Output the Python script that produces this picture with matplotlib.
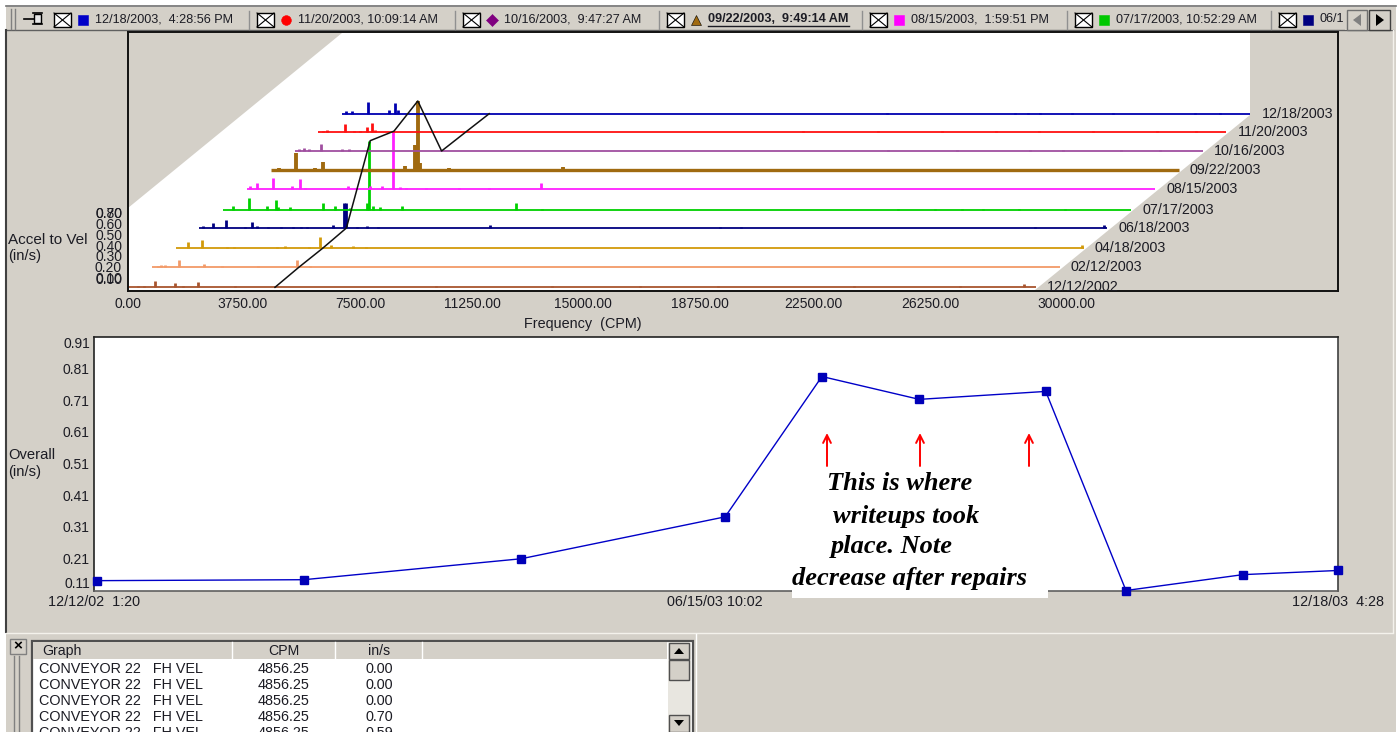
import numpy as np
import pandas as pd
import matplotlib
matplotlib.use("Agg")
import matplotlib.pyplot as plt
from matplotlib.patches import Polygon, Rectangle

plt.rcParams['font.family'] = ['Liberation Sans', 'DejaVu Sans']

GRAY = '#D4D0C8'
INK = '#1c1c24'

# legend strip
stamp_labels = ['12/18/2003,  4:28:56 PM', '11/20/2003, 10:09:14 AM', '10/16/2003,  9:47:27 AM',
                '09/22/2003,  9:49:14 AM', '08/15/2003,  1:59:51 PM', '07/17/2003, 10:52:29 AM', '06/1']
stamp_markers = ['s', 'o', 'D', '^', 's', 's', 's']
stamp_colors = ['#0000C8', '#FF0000', '#800080', '#A06A10', '#FF00FF', '#00C800', '#000080']

# waterfall
trace_dates = ['12/12/2002', '02/12/2003', '04/18/2003', '06/18/2003', '07/17/2003',
               '08/15/2003', '09/22/2003', '10/16/2003', '11/20/2003', '12/18/2003']
trace_colors = ['#A8552E', '#F29A68', '#D29A0A', '#000080', '#00D000',
                '#FF20FF', '#A06A10', '#A04FA0', '#FF1010', '#0000B0']
cursor_amp = [0.00, 0.00, 0.00, 0.00, 0.70, 0.59, 0.70, 0.00, 0.00, 0.00]
cursor_cpm = 4856.25

cpm_1212 = [330, 520, 891, 1551, 1826, 2321, 3531, 4851, 10186, 14000, 16900, 19500, 24000, 27500, 29600]
amp_1212 = [.017, .017, .06, .04, .017, .05, .01, .017, .014, .01, .012, .01, .012, .01, .03]
cpm_0212 = [200, 300, 440, 891, 1738, 2310, 3520, 4785, 5225]
amp_0212 = [.012, .02, .02, .074, .034, .01, .01, .074, .01]
cpm_0418 = [407, 869, 1694, 1914, 3344, 3619, 4411, 4774, 5126, 5874, 6300, 29950]
amp_0418 = [.068, .085, .017, .014, .017, .02, .01, .118, .034, .02, .01, .03]
cpm_0618 = [132, 440, 869, 1507, 1749, 1892, 2277, 2700, 3100, 3350, 3542, 4422, 4774, 4840, 5192, 5522, 5907,
            9592, 17200, 17900, 27600, 29900]
amp_0618 = [.017, .05, .085, .014, .06, .017, .01, .01, .01, .012, .01, .027, .25, .25, .014, .017, .014,
            .034, .01, .01, .01, .027]
cpm_0717 = [308, 858, 1441, 1738, 1826, 2211, 3311, 3696, 4191, 4741, 4818, 4961, 5181, 5918, 9658, 10516,
            22300, 23500, 24400, 25100, 26300, 27800]
amp_0717 = [.04, .118, .034, .10, .027, .027, .068, .034, .017, .068, .70, .04, .027, .04, .068, .012,
            .01, .01, .01, .01, .01, .01]
cpm_0815 = [99, 319, 869, 1474, 1760, 1914, 3344, 3586, 4059, 4444, 4829, 5049, 5269, 5929, 7000, 8000, 9702]
amp_0815 = [.034, .068, .118, .034, .108, .017, .034, .017, .034, .034, .59, .027, .017, .017, .01, .01, .068]
cpm_0922 = [264, 847, 1474, 1727, 4422, 4760, 4856, 4930, 5900, 7800, 9669, 20000, 22800, 24600, 26100, 28300]
amp_0922 = [.024, .17, .02, .085, .04, .25, .70, .07, .017, .012, .034, .012, .012, .012, .012, .012]
cpm_1016 = [132, 297, 462, 869, 1562, 1782, 19600, 21900, 24300, 25400, 27300, 28600]
amp_1016 = [.02, .027, .017, .075, .017, .017, .01, .01, .01, .01, .01, .01]
cpm_1120 = [143, 275, 891, 1166, 1375, 1595, 1760, 1881, 16000, 18500, 20600, 22400, 23800, 25600, 27700, 29000]
amp_1120 = [.017, .02, .085, .017, .017, .05, .095, .027, .012, .012, .012, .012, .012, .012, .012, .012]
cpm_1218 = [132, 319, 847, 1562, 1738, 1837, 18000, 22233, 22660, 23060, 24116, 25470, 28180, 29000]
amp_1218 = [.027, .027, .118, .034, .11, .04, .012, .012, .012, .012, .012, .012, .012, .012]
trace_cpm = [cpm_1212, cpm_0212, cpm_0418, cpm_0618, cpm_0717, cpm_0815, cpm_0922, cpm_1016, cpm_1120, cpm_1218]
trace_amp = [amp_1212, amp_0212, amp_0418, amp_0618, amp_0717, amp_0815, amp_0922, amp_1016, amp_1120, amp_1218]

freq_ticks = [0, 3750, 7500, 11250, 15000, 18750, 22500, 26250, 30000]
freq_tick_px = [127, 243, 360, 472, 583, 700, 813, 930, 1066]  # labels sit unevenly in the original
amp_tick_labels = ['0.80', '0.70', '0.60', '0.50', '0.40', '0.30', '0.20', '0.10', '0.00']
amp_tick_px = [214, 214, 225, 236, 247, 257, 268, 279, 280]

# overall trend
overall_dates = ['2002-12-12 13:20', '2003-02-12 12:00', '2003-04-18 12:00', '2003-06-18 12:00', '2003-07-17 10:52',
                 '2003-08-15 13:59', '2003-09-22 09:49', '2003-10-16 09:47', '2003-11-20 10:09', '2003-12-18 16:28']
overall_vals = [0.141, 0.144, 0.21, 0.342, 0.784, 0.712, 0.737, 0.11, 0.16, 0.173]
overall_ticks = [0.11, 0.21, 0.31, 0.41, 0.51, 0.61, 0.71, 0.81, 0.91]
overall_x_labels = ['12/12/02  1:20', '06/15/03 10:02', '12/18/03  4:28']

# readout table
table_columns = ['Graph', 'CPM', 'in/s']
table_graph = ['CONVEYOR 22   FH VEL'] * 5
table_cpm = ['4856.25'] * 5
table_ins = ['0.00', '0.00', '0.00', '0.70', '0.59']


def px_axes(left, top, right, bottom):
    return fig.add_axes([left / 1400, 1 - bottom / 732, (right - left) / 1400, (bottom - top) / 732])


fig = plt.figure(figsize=(14, 7.32), dpi=100, facecolor='white')

# Full-figure layer in pixels for the window chrome
bg = fig.add_axes([0, 0, 1, 1])
bg.set_xlim(0, 1400)
bg.set_ylim(732, 0)
bg.axis('off')
bg.add_patch(Rectangle((6, 7), 1390, 725, fc=GRAY, ec='none'))
bg.plot([6, 1396], [6, 6], color='#707070', lw=1.2)
bg.plot([6, 1393], [30, 30], color='#606060', lw=1.0)
bg.plot([6, 6], [30, 632], color='#404040', lw=1.5)
bg.plot([1392.5, 1392.5], [30, 632], color='#F4F2EC', lw=1.0)
bg.plot([6, 1393], [632.5, 632.5], color='#F4F2EC', lw=1.0)

# Toolbar
bg.plot([11, 11], [9, 29], color='#808080', lw=1)
bg.plot([15, 15], [9, 29], color='#808080', lw=1)
bg.plot([24, 34], [19, 19], color='black', lw=1.2)
bg.add_patch(Rectangle((34, 14), 7, 9, fc='#E8E8E8', ec='black', lw=1))
bg.plot([33, 42], [13, 13], color='black', lw=1.2)
bg.plot([33, 42], [24, 24], color='black', lw=1.2)
box_x = [54, 257, 463, 667, 870, 1075, 1279]
for i, (lab, mk, col) in enumerate(zip(stamp_labels, stamp_markers, stamp_colors)):
    x0 = box_x[i]
    bg.add_patch(Rectangle((x0, 13), 17, 14, fc='white', ec='black', lw=1))
    bg.plot([x0, x0 + 17], [13, 27], color='black', lw=0.8)
    bg.plot([x0, x0 + 17], [27, 13], color='black', lw=0.8)
    bg.plot(x0 + 29, 19.5, marker=mk, ms=7 if mk in 'so' else 6.5, color=col, mec='black' if mk == '^' else col, mew=0.4)
    bold = i == 3
    t = bg.text(x0 + 41, 19.5, lab, fontsize=9.1, color=INK, va='center', ha='left',
                fontweight='bold' if bold else 'normal')
    if bold:
        bg.plot([x0 + 41, 849], [26, 26], color=INK, lw=1)
    if i > 0:
        bg.plot([x0 - 8, x0 - 8], [11, 29], color='#909090', lw=1)
bg.add_patch(Rectangle((1345, 7), 48, 23, fc=GRAY, ec='none', zorder=3))
bg.add_patch(Rectangle((1347, 10), 20, 20, fc=GRAY, ec='#707070', lw=1, zorder=4))
bg.add_patch(Rectangle((1369, 10), 21, 20, fc=GRAY, ec='#404040', lw=1, zorder=4))
bg.add_patch(Polygon([(1361, 14), (1361, 26), (1353, 20)], fc='#808080', ec='none', zorder=5))
bg.add_patch(Polygon([(1376, 14), (1376, 26), (1384, 20)], fc='black', ec='none', zorder=5))

# Waterfall plot area
bg.add_patch(Polygon([(128, 208), (342, 33), (1250, 33), (1250, 115), (1035, 290), (128, 290)],
                     fc='white', ec='none'))
bg.text(8, 240, 'Accel to Vel', fontsize=11, color=INK, va='center')
bg.text(8, 256, '(in/s)', fontsize=10.6, color=INK, va='center')
for lab, y in zip(amp_tick_labels, amp_tick_px):
    bg.text(122, y, lab, fontsize=10, color=INK, va='center', ha='right')

# Trace geometry: each date steps back and up, front axis slightly compressed
PX_CPM = 0.03127
PX_AMP = 98.6
x_step = 23.8 / PX_CPM
trace_base_px = [287.3, 267.3, 248.3, 228, 209.7, 189.3, 170, 151, 132.3, 113.7]
x_squeeze = 0.968

wf = px_axes(128, 32, 1338, 290.5)
wf.patch.set_alpha(0)
wf.set_xlim(0, 1210 / PX_CPM)
wf.set_ylim(-3.2 / PX_AMP, 255.3 / PX_AMP)
for i, (dt, col, cpm, amp) in enumerate(zip(trace_dates, trace_colors, trace_cpm, trace_amp)):
    xoff = i * x_step
    yoff = (287.3 - trace_base_px[i]) / PX_AMP
    heavy = dt == '09/22/2003'
    xs = np.array(cpm) * x_squeeze + xoff
    ys = np.array(amp) + yoff
    wf.plot([xoff, 30000 * x_squeeze + xoff], [yoff, yoff], color=col, lw=2.4 if heavy else 1.3, solid_capstyle='butt')
    wf.vlines(xs, yoff, ys, color=col, lw=2.8 if heavy else 2.0)
    wf.annotate(dt, (30000 * x_squeeze + xoff, yoff), xytext=(8, 0), textcoords='offset points',
                fontsize=10.3, color=INK, va='center', ha='left', annotation_clip=False, clip_on=True)
cx = [cursor_cpm * x_squeeze + i * x_step for i in range(10)]
cy = [a + (287.3 - b) / PX_AMP for a, b in zip(cursor_amp, trace_base_px)]
wf.plot(cx, cy, color='#111111', lw=1.1, zorder=5)
wf.set_yticks([])
# first label sits a pixel left of the frame, so keep the tick inside the limits
wf.set_xticks([max(p - 128, 0) / PX_CPM for p in freq_tick_px])
wf.set_xticklabels(['%.2f' % f for f in freq_ticks], fontsize=10, color=INK)
wf.tick_params(axis='x', length=0, pad=5)
wf.set_xlim(0, 1210 / PX_CPM)
wf.set_xlabel('Frequency  (CPM)', fontsize=10.4, color=INK, x=(583 - 128) / 1210, labelpad=4)
for s in wf.spines.values():
    s.set_linewidth(1.4)
    s.set_color('#111111')

# Overall trend
tr = px_axes(94, 336.5, 1338, 590.5)
tr.set_facecolor('white')
dates = pd.to_datetime(overall_dates)
tr.plot(dates, overall_vals, color='#0000C8', lw=1, marker='s', ms=5.5, mfc='#0000B8', mec='#0000B8', clip_on=False, zorder=3)
tr.set_xlim(pd.Timestamp('2002-12-11 17:00'), pd.Timestamp('2003-12-18 20:00'))
tr.set_ylim(0.11, 0.91)
tr.set_yticks(overall_ticks)
tr.set_yticklabels(['%.2f' % v for v in overall_ticks], fontsize=10, color=INK)
for lab in tr.yaxis.get_ticklabels():
    lab.set_va('center_baseline')
tr.yaxis.get_ticklabels()[0].set_va('bottom')
tr.yaxis.get_ticklabels()[-1].set_va('top')
tr.tick_params(axis='y', length=0, pad=3)
tr.set_xticks([])
for s in tr.spines.values():
    s.set_linewidth(1.2)
    s.set_color('#222222')
tr.spines['bottom'].set_color('#606060')
tr.spines['right'].set_color('#404040')

bg.text(8, 455, 'Overall', fontsize=10.6, color=INK, va='center')
bg.text(8, 472, '(in/s)', fontsize=10.6, color=INK, va='center')
for lab, x in zip(overall_x_labels, [48, 667, 1292]):
    bg.text(x, 602, lab, fontsize=10.4, color=INK, va='center', ha='left')

# Annotation layer on top of the trend plot
over = fig.add_axes([0, 0, 1, 1])
over.set_xlim(0, 1400)
over.set_ylim(732, 0)
over.axis('off')
over.patch.set_alpha(0)
over.add_patch(Rectangle((792, 568), 256, 29.5, fc='white', ec='none'))
for x in [827, 920, 1029]:
    over.annotate('', xy=(x, 433), xytext=(x, 466),
                  arrowprops=dict(arrowstyle='->', color='#FF0000', lw=1.4, mutation_scale=14, shrinkA=0, shrinkB=0))
note_lines = ['This is where', 'writeups took', 'place. Note', 'decrease after repairs']
for s, x, y in zip(note_lines, [827, 833, 831, 792], [484, 516, 547, 579]):
    over.text(x, y, s, family='Liberation Serif', fontsize=19, fontweight='bold', fontstyle='italic',
              color='black', va='center', ha='left')

# Readout table
bg.add_patch(Rectangle((10, 639), 16, 15, fc=GRAY, ec='#808080', lw=1))
bg.text(18, 646, '×', fontsize=11, fontweight='bold', color='black', va='center', ha='center')
bg.plot([14, 14], [656, 732], color='#808080', lw=1)
bg.plot([19, 19], [656, 732], color='#808080', lw=1)
bg.add_patch(Rectangle((32, 641), 661, 95, fc='white', ec='#505050', lw=1.6, clip_on=True))
bg.add_patch(Rectangle((33, 642), 634, 17, fc=GRAY, ec='none'))
for x in [232, 335, 422]:
    bg.plot([x, x], [642, 659], color='white', lw=1)
bg.text(42, 651, table_columns[0], fontsize=10.2, color=INK, va='center')
bg.text(284, 651, table_columns[1], fontsize=10.2, color=INK, va='center', ha='center')
bg.text(379, 651, table_columns[2], fontsize=10.2, color=INK, va='center', ha='center')
for i, (g, c, v) in enumerate(zip(table_graph, table_cpm, table_ins)):
    y = 669 + 16 * i
    bg.text(39, y, g, fontsize=10.4, color=INK, va='center', clip_on=True)
    bg.text(284, y, c, fontsize=10.4, color=INK, va='center', ha='center', clip_on=True)
    bg.text(379, y, v, fontsize=10.4, color=INK, va='center', ha='center', clip_on=True)
bg.add_patch(Rectangle((668, 642), 23, 90, fc='#E8E6E0', ec='none'))
bg.add_patch(Rectangle((669, 643), 20, 16, fc=GRAY, ec='#505050', lw=1))
bg.add_patch(Rectangle((669, 660), 20, 20, fc=GRAY, ec='#505050', lw=1))
bg.add_patch(Rectangle((669, 715), 20, 17, fc=GRAY, ec='#505050', lw=1))
bg.add_patch(Polygon([(674, 654), (684, 654), (679, 648)], fc='black', ec='none'))
bg.add_patch(Polygon([(674, 720), (684, 720), (679, 726)], fc='black', ec='none'))
bg.plot([696, 696], [634, 732], color='white', lw=1)

fig.savefig('out.png', dpi=100, facecolor='white')
